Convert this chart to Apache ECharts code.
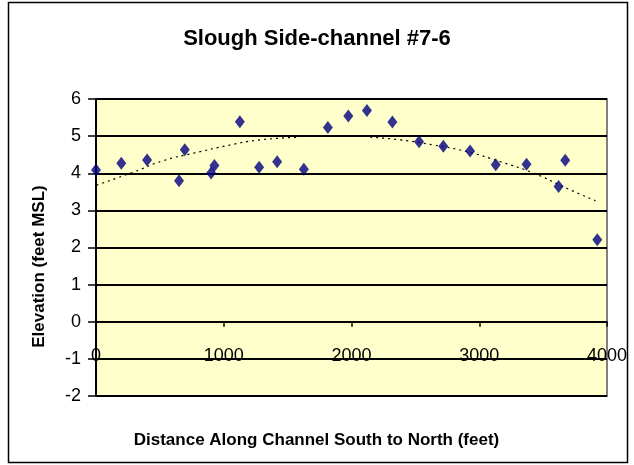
<!DOCTYPE html>
<html>
<head>
<meta charset="utf-8">
<script src="https://cdn.jsdelivr.net/npm/echarts@6/dist/echarts.min.js"></script>
<style>
html, body { margin: 0; padding: 0; background: #fff; }
#chart { width: 634px; height: 465px; }
</style>
</head>
<body>
<div id="chart"></div>
<script>
// survey points: distance (ft) and elevation (ft MSL)
var distance = [0, 198, 400, 650, 695, 901, 927, 1126, 1277, 1418, 1627, 1815, 1975,
	2121, 2320, 2529, 2719, 2928, 3129, 3370, 3621, 3673, 3924];
var elevation = [4.09, 4.27, 4.36, 3.80, 4.63, 4.01, 4.21, 5.39, 4.16, 4.31, 4.11, 5.23, 5.54,
	5.69, 5.38, 4.85, 4.73, 4.60, 4.23, 4.24, 3.64, 4.35, 2.21];

// dotted trend line (gap in the middle as drawn)
var trendX = [5, 292, 527, 763, 1050, 1259, 1585, null, 2147, 2382, 2643, 2905, 3166, 3427, 3688, 3910];
var trendY = [3.68, 4.03, 4.34, 4.54, 4.76, 4.89, 4.97, null, 4.97, 4.90, 4.76, 4.58, 4.31, 4.00, 3.59, 3.26];

var xTicks = { min: 0, max: 4000, step: 1000 };
var yTicks = { min: -2, max: 6, step: 1 };

var pts = distance.map(function(d, i) { return [d, elevation[i]]; });
var trend = trendX.map(function(d, i) { return d === null ? [null, null] : [d, trendY[i]]; });

var font = 'Liberation Sans, Arial, sans-serif';
var chart = echarts.init(document.getElementById('chart'), null, { renderer: 'canvas' });

chart.setOption({
	animation: false,
	backgroundColor: '#fff',
	title: {
		text: 'Slough Side-channel #7-6',
		left: 'center',
		top: 23,
		textStyle: { fontFamily: font, fontSize: 22, fontWeight: 'bold', color: '#000' }
	},
	graphic: [{
		type: 'rect',
		shape: { x: 8.5, y: 2.5, width: 619, height: 460 },
		style: { fill: 'none', stroke: '#000', lineWidth: 1.5 },
		z: 100
	}],
	grid: {
		left: 96, top: 99, width: 511, height: 297,
		containLabel: false,
		outerBoundsMode: 'none',
		show: true,
		backgroundColor: '#FFFFCC',
		borderColor: '#808080',
		borderWidth: 2
	},
	xAxis: {
		type: 'value',
		min: xTicks.min, max: xTicks.max, interval: xTicks.step,
		name: 'Distance Along Channel South to North (feet)',
		nameLocation: 'middle',
		nameGap: 36,
		nameTextStyle: { fontFamily: font, fontSize: 17, fontWeight: 'bold', color: '#000', padding: [0, 70, 0, 0] },
		axisLine: { onZero: true, lineStyle: { color: '#000', width: 1.5 } },
		axisTick: { show: true, inside: false, length: 5, lineStyle: { color: '#000', width: 1.5 } },
		axisLabel: {
			fontFamily: font, fontSize: 18, color: '#000', margin: -49,
			formatter: function(v) { return String(v); }
		},
		splitLine: { show: false }
	},
	yAxis: {
		type: 'value',
		min: yTicks.min, max: yTicks.max, interval: yTicks.step,
		name: 'Elevation (feet MSL)',
		nameLocation: 'middle',
		nameRotate: 90,
		nameGap: 48,
		nameTextStyle: { fontFamily: font, fontSize: 17, fontWeight: 'bold', color: '#000', padding: [0, 38, 0, 0] },
		axisLine: { show: true, onZero: false, lineStyle: { color: '#000', width: 2 } },
		axisTick: { show: true, inside: false, length: 8, lineStyle: { color: '#000', width: 1.5 } },
		axisLabel: { fontFamily: font, fontSize: 18, color: '#000', margin: 15 },
		splitLine: { show: true, lineStyle: { color: '#000', width: 2 } }
	},
	series: [{
		name: 'trend',
		type: 'line',
		data: trend,
		smooth: true,
		connectNulls: false,
		showSymbol: false,
		symbol: 'none',
		lineStyle: { color: '#000', width: 1.2, type: [2, 4] },
		z: 3
	}, {
		name: 'elevation',
		type: 'scatter',
		data: pts,
		symbol: 'diamond',
		symbolSize: [10, 13],
		itemStyle: { color: '#000080' },
		z: 4
	}]
});
</script>
</body>
</html>
